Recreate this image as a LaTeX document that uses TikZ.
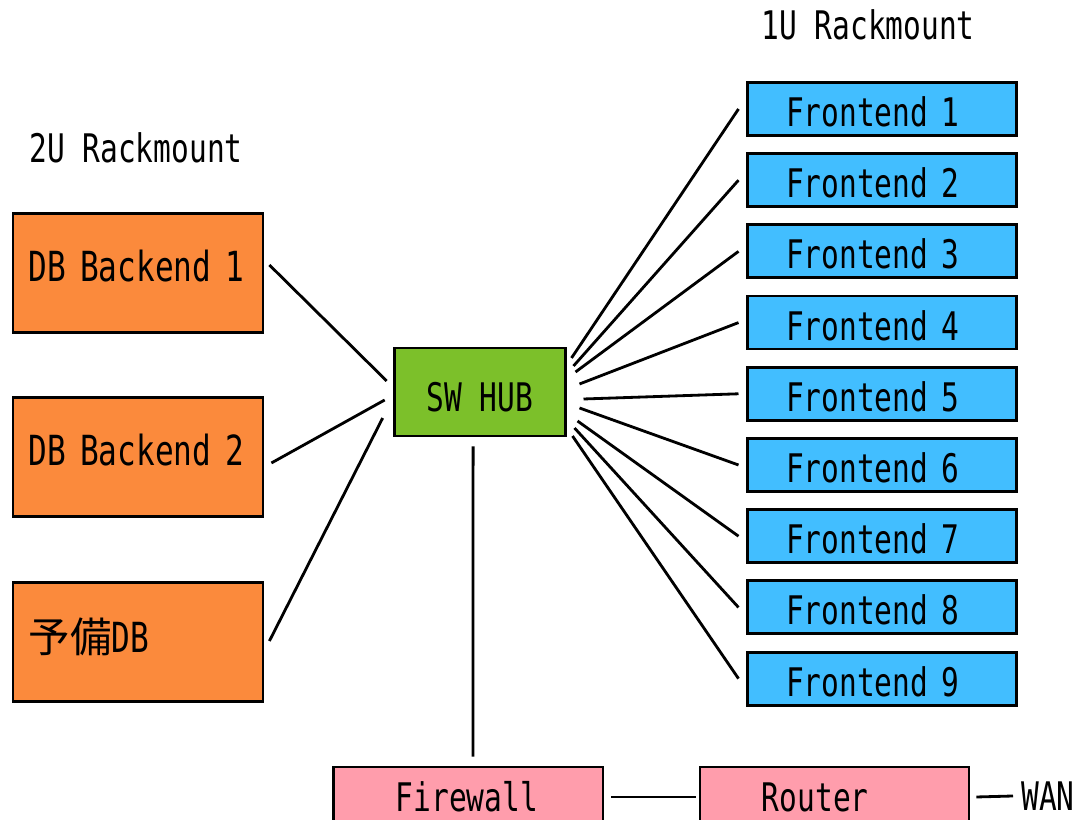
\documentclass[tikz,border=0pt]{standalone}
\usepackage{fontspec}
\setmonofont[FakeStretch=0.75]{DejaVu Sans Mono}
\newfontfamily\jpfont{Noto Sans CJK JP}
\usetikzlibrary{calc}

\definecolor{dborange}{HTML}{FB8A3C}
\definecolor{hubgreen}{HTML}{7CC02A}
\definecolor{feblue}{HTML}{42BEFF}
\definecolor{netpink}{HTML}{FF9DAC}

\begin{document}
\begin{tikzpicture}[font=\ttfamily\fontsize{28}{30}\selectfont,
  box/.style={draw, line width=2pt, inner sep=0pt},
  dbbox/.style={box, fill=dborange, minimum width=6.25cm, minimum height=2.975cm,
    text width=5.45cm, align=left, text depth=0.35cm,
    font=\ttfamily\fontsize{29.5}{32}\selectfont},
  hubbox/.style={box, fill=hubgreen, minimum width=4.275cm, minimum height=2.2cm,
    text height=0.99cm},
  febox/.style={box, fill=feblue, minimum width=6.725cm, minimum height=1.325cm,
    text width=4.775cm, align=left, text height=0.89cm},
  netbox/.style={box, fill=netpink, minimum width=6.725cm, minimum height=1.5cm,
    text width=3.625cm, align=left},
  link/.style={line width=2pt}]
\useasboundingbox (0,0) rectangle (26.875,20.5);

% rack labels
\node (lbl2u) at (3.4,16.8) {2U Rackmount};
\node (lbl1u) at (21.7,19.875) {1U Rackmount};

% database servers (\mbox keeps the name on one line)
\node[dbbox] (db1) at (3.45,13.675) {\mbox{DB Backend 1}};
\node[dbbox] (db2) at (3.45,9.075) {\mbox{DB Backend 2}};
\node[dbbox] (dbspare) at (3.45,4.45) {{\jpfont 予備}DB};

% switch
\node[hubbox] (hub) at (11.99,10.7) {SW HUB};

% web frontends
\foreach \i in {1,...,9}
  \node[febox] (fe\i) at (22.04,{17.775-1.78*(\i-1)}) {Frontend \i};

% outside link
\node[netbox] (fw) at (11.71,0.575) {Firewall};
\node[netbox] (router) at (20.86,0.575) {Router};
\node[anchor=west, inner sep=0pt] (wan) at (25.525,0.6) {WAN};

% cabling
\draw[link] ($(db1.east)+(0.125,0.2)$) -- ($(hub.west)+(-0.15,0.275)$);
\draw[link] ($(db2.east)+(0.175,-0.15)$) -- ($(hub.west)+(-0.2,-0.2)$);
\draw[link] ($(dbspare.east)+(0.125,0.025)$) -- ($(hub.west)+(-0.25,-0.65)$);
\foreach \i/\dx/\dy in {1/0.125/0.85, 2/0.175/0.65, 3/0.225/0.5, 4/0.325/0.2,
    5/0.425/-0.175, 6/0.325/-0.4, 7/0.275/-0.725, 8/0.2/-0.9, 9/0.15/-1.1}
  \draw[link] ($(hub.east)+(\dx,\dy)$) -- ($(fe\i.west)+(-0.18,0)$);
\draw[link] ($(hub.south)+(-0.1625,-0.225)$) -- ($(fw.north)+(0.1125,0.225)$);
\draw[link] ($(fw.east)+(0.175,0)$) -- ($(router.west)+(-0.075,0)$);
\draw[link] ($(router.east)+(0.15,0)$) -- ($(wan.west)+(-0.2,0)$);
\end{tikzpicture}
\end{document}
